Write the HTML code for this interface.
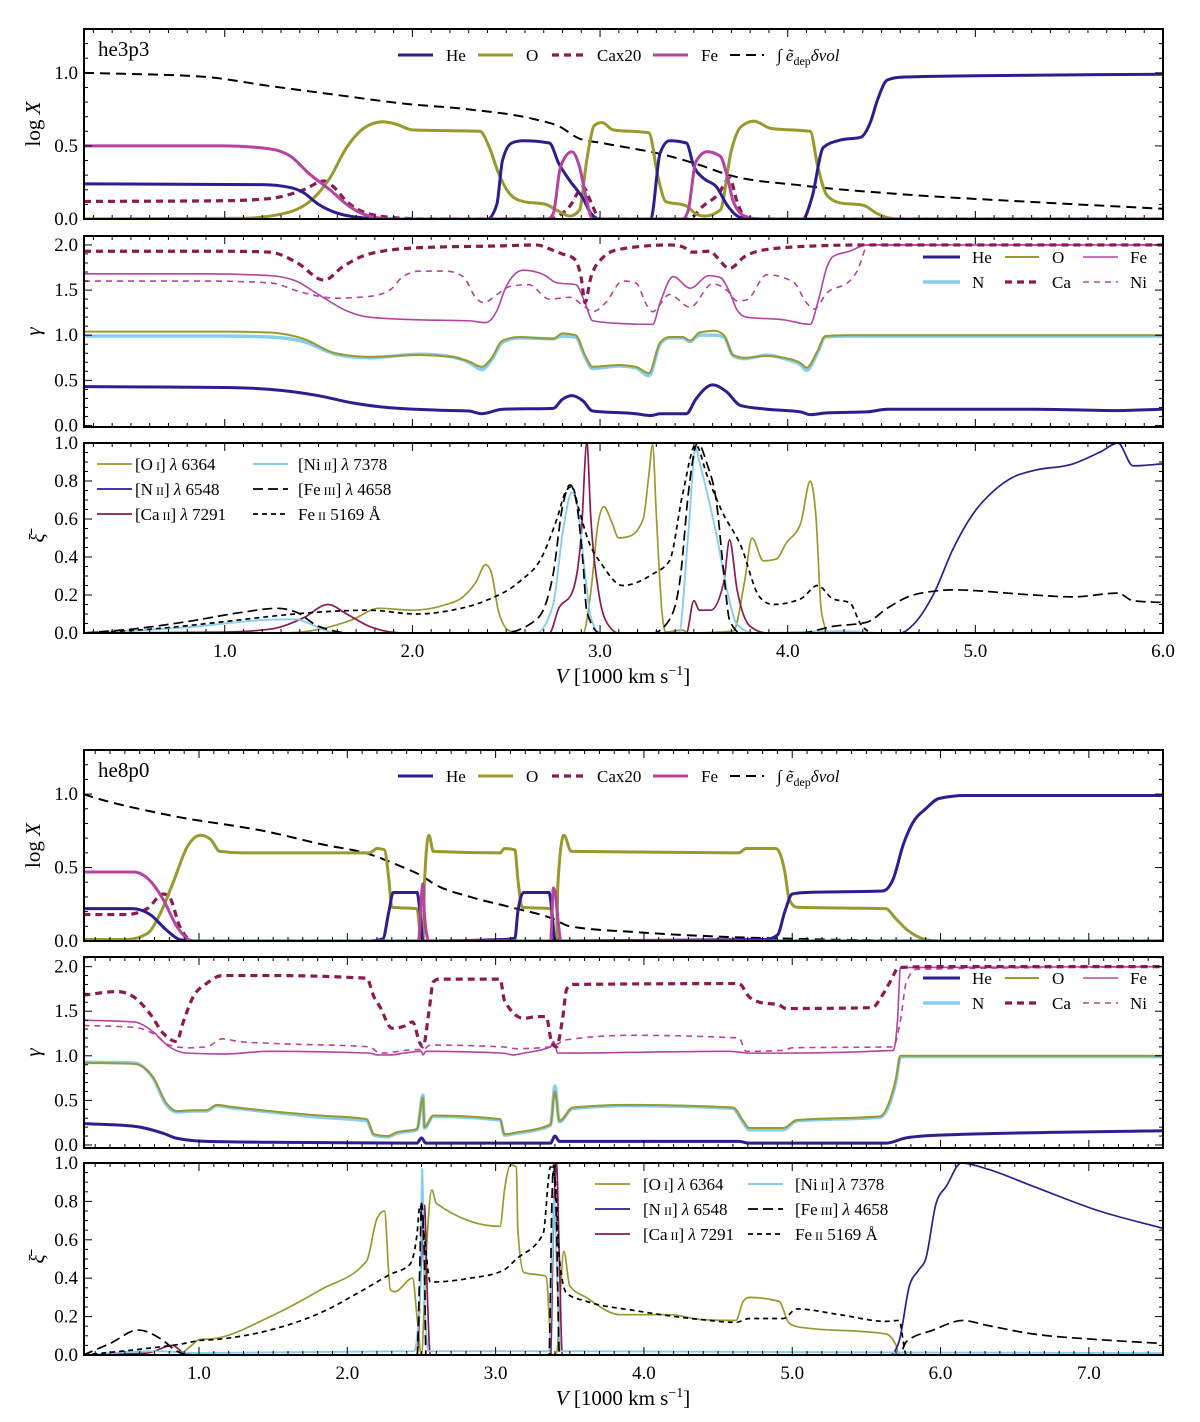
<!DOCTYPE html>
<html><head><meta charset="utf-8"><style>
html,body{margin:0;padding:0;background:#fff;}
svg{display:block;font-family:"Liberation Serif",serif;}
</style></head><body>
<svg id="fig" width="1200" height="1422" viewBox="0 0 1200 1422" xmlns="http://www.w3.org/2000/svg"></svg>
<script>
// ===== he3p3 (top figure) data =====
const A_lx_He=[[0.25,0.24],[1.2,0.235],[1.35,0.215],[1.42,0.18],[1.5,0.1],[1.6,0.04],[1.77,0.005],[1.9,0],[2.4,0],[2.45,0.1],[2.48,0.4],[2.53,0.52],[2.59,0.535],[2.73,0.52],[2.78,0.38],[2.84,0.26],[2.91,0.14],[2.95,0.04],[3.0,0],[3.27,0],[3.32,0.45],[3.37,0.535],[3.46,0.52],[3.5,0.36],[3.55,0.28],[3.62,0.22],[3.68,0.09],[3.75,0.01],[3.85,0],[4.08,0],[4.13,0.15],[4.19,0.49],[4.28,0.54],[4.39,0.56],[4.44,0.66],[4.48,0.82],[4.53,0.95],[4.6,0.97],[5.0,0.98],[6.0,0.99]];
const A_lx_O=[[0.25,0],[1.1,0.005],[1.24,0.02],[1.42,0.09],[1.56,0.28],[1.65,0.49],[1.74,0.62],[1.84,0.665],[1.91,0.65],[2.0,0.61],[2.36,0.6],[2.41,0.49],[2.46,0.31],[2.52,0.17],[2.59,0.12],[2.71,0.1],[2.77,0.06],[2.84,0.02],[2.89,0.06],[2.93,0.41],[2.97,0.64],[3.01,0.66],[3.07,0.61],[3.26,0.59],[3.31,0.28],[3.35,0.12],[3.46,0.09],[3.51,0.035],[3.56,0.02],[3.64,0.06],[3.7,0.47],[3.75,0.63],[3.82,0.67],[3.91,0.62],[4.12,0.6],[4.16,0.36],[4.21,0.16],[4.28,0.11],[4.4,0.095],[4.48,0.035],[4.53,0.01],[4.6,0],[6.0,0]];
const A_lx_Fe=[[0.25,0.5],[1.0,0.5],[1.24,0.48],[1.35,0.43],[1.45,0.31],[1.56,0.2],[1.66,0.09],[1.77,0.02],[1.9,0],[2.72,0],[2.75,0.035],[2.79,0.36],[2.85,0.46],[2.89,0.36],[2.93,0.12],[2.96,0],[3.44,0],[3.47,0.06],[3.51,0.39],[3.57,0.46],[3.64,0.43],[3.68,0.28],[3.71,0.12],[3.77,0.02],[3.85,0],[6.0,0]];
const A_lx_Ca=[[0.25,0.12],[1.0,0.125],[1.24,0.14],[1.42,0.2],[1.53,0.26],[1.58,0.22],[1.65,0.12],[1.77,0.035],[1.95,0.005],[2.1,0],[2.73,0],[2.84,0.09],[2.91,0.22],[2.95,0.12],[3.0,0],[3.47,0],[3.55,0.09],[3.63,0.17],[3.69,0.28],[3.73,0.12],[3.78,0],[6.0,0]];
const A_lx_E=[[0.25,1.0],[0.87,0.975],[1.24,0.91],[1.59,0.85],[1.95,0.79],[2.3,0.75],[2.66,0.68],[2.78,0.635],[2.89,0.55],[3.01,0.52],[3.37,0.43],[3.53,0.37],[3.69,0.3],[4.07,0.23],[4.6,0.17],[5.31,0.116],[6.0,0.07]];
const A_g_Ca=[[0.25,1.93],[1.0,1.93],[1.24,1.92],[1.38,1.81],[1.53,1.61],[1.63,1.76],[1.77,1.9],[2.04,1.97],[2.48,1.99],[2.66,2.0],[2.75,1.94],[2.8,1.9],[2.86,1.85],[2.9,1.63],[2.92,1.36],[2.95,1.63],[3.01,1.85],[3.1,1.95],[3.37,2.0],[3.44,1.98],[3.49,1.92],[3.59,1.93],[3.62,1.87],[3.69,1.74],[3.77,1.87],[3.89,1.95],[4.16,1.99],[4.4,2.0],[6.0,2.0]];
const A_g_Fe=[[0.25,1.68],[0.9,1.68],[1.24,1.66],[1.38,1.6],[1.5,1.45],[1.65,1.27],[1.77,1.2],[2.04,1.17],[2.3,1.16],[2.39,1.14],[2.45,1.27],[2.5,1.54],[2.59,1.72],[2.7,1.67],[2.77,1.58],[2.87,1.56],[2.92,1.36],[2.96,1.16],[3.1,1.13],[3.28,1.12],[3.32,1.36],[3.39,1.65],[3.48,1.52],[3.58,1.66],[3.64,1.64],[3.69,1.48],[3.73,1.28],[3.78,1.2],[3.98,1.17],[4.12,1.12],[4.16,1.36],[4.21,1.76],[4.24,1.87],[4.33,1.93],[4.42,2.0],[6.0,2.0]];
const A_g_Ni=[[0.25,1.6],[0.9,1.6],[1.24,1.58],[1.42,1.47],[1.59,1.41],[1.77,1.43],[1.88,1.5],[1.95,1.65],[2.04,1.71],[2.18,1.71],[2.27,1.65],[2.34,1.41],[2.38,1.36],[2.45,1.45],[2.52,1.54],[2.62,1.56],[2.73,1.4],[2.84,1.42],[2.92,1.31],[2.96,1.26],[3.03,1.36],[3.12,1.6],[3.19,1.58],[3.25,1.33],[3.28,1.26],[3.37,1.45],[3.48,1.31],[3.6,1.57],[3.68,1.49],[3.73,1.38],[3.78,1.39],[3.89,1.67],[4.03,1.59],[4.1,1.36],[4.14,1.29],[4.21,1.47],[4.33,1.6],[4.37,1.71],[4.43,2.0],[6.0,2.0]];
const A_g_O=[[0.25,1.04],[1.0,1.04],[1.24,1.03],[1.42,0.96],[1.59,0.8],[1.77,0.76],[2.04,0.78],[2.21,0.76],[2.3,0.71],[2.37,0.65],[2.42,0.74],[2.48,0.94],[2.57,0.98],[2.75,0.96],[2.8,1.02],[2.87,1.0],[2.92,0.78],[2.96,0.65],[3.1,0.67],[3.19,0.65],[3.26,0.58],[3.32,0.92],[3.37,0.98],[3.44,0.98],[3.48,0.94],[3.53,1.03],[3.61,1.05],[3.66,1.0],[3.71,0.78],[3.77,0.75],[3.89,0.77],[3.98,0.75],[4.07,0.69],[4.1,0.64],[4.16,0.83],[4.2,0.99],[4.3,1.0],[6.0,1.0]];
const A_g_N=[[0.25,0.99],[1.0,0.99],[1.24,0.98],[1.42,0.93],[1.59,0.79],[1.77,0.75],[2.04,0.79],[2.21,0.76],[2.3,0.7],[2.37,0.62],[2.42,0.72],[2.48,0.92],[2.57,0.97],[2.75,0.96],[2.8,0.99],[2.87,0.98],[2.92,0.76],[2.96,0.63],[3.1,0.66],[3.19,0.64],[3.26,0.55],[3.32,0.9],[3.37,0.97],[3.44,0.97],[3.48,0.93],[3.53,1.0],[3.61,1.0],[3.66,0.98],[3.71,0.77],[3.77,0.74],[3.89,0.78],[3.98,0.74],[4.07,0.67],[4.1,0.61],[4.16,0.81],[4.2,0.98],[4.3,0.99],[6.0,0.99]];
const A_g_He=[[0.25,0.43],[1.0,0.42],[1.24,0.4],[1.5,0.33],[1.68,0.25],[1.86,0.2],[2.13,0.17],[2.3,0.16],[2.37,0.13],[2.48,0.18],[2.75,0.19],[2.8,0.29],[2.85,0.33],[2.91,0.27],[2.96,0.16],[3.19,0.13],[3.27,0.11],[3.32,0.13],[3.46,0.13],[3.51,0.29],[3.6,0.45],[3.67,0.38],[3.75,0.22],[3.89,0.18],[4.07,0.15],[4.12,0.12],[4.21,0.14],[4.42,0.15],[4.53,0.18],[5.31,0.18],[5.75,0.165],[6.0,0.18]];
const A_x_O=[[0.25,0],[1.3,0],[1.45,0.01],[1.55,0.03],[1.68,0.07],[1.82,0.13],[2.0,0.12],[2.18,0.15],[2.27,0.19],[2.34,0.27],[2.39,0.36],[2.42,0.32],[2.46,0.11],[2.52,0.01],[2.6,0],[2.91,0],[2.95,0.21],[2.99,0.58],[3.02,0.665],[3.06,0.59],[3.1,0.5],[3.16,0.51],[3.23,0.6],[3.26,0.83],[3.28,0.99],[3.3,0.62],[3.33,0.11],[3.35,0.005],[3.44,0.015],[3.47,0],[3.71,0.01],[3.77,0.27],[3.81,0.5],[3.87,0.38],[3.94,0.39],[3.99,0.47],[4.07,0.58],[4.12,0.8],[4.15,0.62],[4.18,0.11],[4.22,0],[6.0,0]];
const A_x_N=[[0.25,0],[4.6,0],[4.67,0.045],[4.78,0.21],[4.88,0.44],[4.99,0.63],[5.1,0.75],[5.2,0.82],[5.31,0.855],[5.52,0.89],[5.67,0.955],[5.76,1.0],[5.84,0.88],[6.0,0.89]];
const A_x_Ca=[[0.25,0],[1.0,0.005],[1.24,0.02],[1.42,0.08],[1.55,0.15],[1.65,0.1],[1.77,0.035],[1.95,0],[2.73,0],[2.78,0.13],[2.85,0.21],[2.9,0.52],[2.93,1.0],[2.95,0.62],[2.99,0.23],[3.03,0.066],[3.1,0],[3.46,0],[3.5,0.17],[3.53,0.12],[3.59,0.12],[3.66,0.27],[3.69,0.49],[3.73,0.23],[3.8,0.035],[3.89,0],[6.0,0]];
const A_x_Ni=[[0.25,0],[0.8,0.03],[1.24,0.07],[1.38,0.072],[1.45,0.05],[1.52,0.02],[1.6,0],[2.66,0],[2.75,0.15],[2.8,0.52],[2.85,0.74],[2.88,0.665],[2.92,0.31],[2.95,0.087],[3.0,0],[3.42,0],[3.47,0.52],[3.51,0.975],[3.53,0.9],[3.57,0.74],[3.62,0.52],[3.68,0.21],[3.73,0.045],[3.82,0],[4.3,0.01],[4.5,0],[6.0,0]];
const A_x_F3=[[0.25,0],[0.5,0.02],[0.8,0.06],[1.1,0.11],[1.28,0.13],[1.38,0.11],[1.5,0.035],[1.68,0],[2.48,0],[2.66,0.07],[2.75,0.31],[2.8,0.665],[2.84,0.78],[2.87,0.71],[2.91,0.36],[2.93,0.11],[3.0,0],[3.28,0],[3.37,0.07],[3.43,0.31],[3.47,0.73],[3.52,1.0],[3.57,0.89],[3.62,0.69],[3.66,0.31],[3.69,0.07],[3.75,0],[4.07,0],[4.24,0.035],[4.42,0.056],[4.53,0.13],[4.64,0.19],[4.78,0.22],[4.88,0.227],[5.31,0.2],[5.52,0.19],[5.76,0.21],[5.84,0.17],[6.0,0.16]];
const A_x_F2=[[0.25,0],[0.6,0.02],[1.0,0.06],[1.24,0.087],[1.5,0.11],[1.77,0.12],[2.02,0.1],[2.21,0.12],[2.39,0.17],[2.57,0.27],[2.69,0.4],[2.77,0.6],[2.82,0.75],[2.85,0.77],[2.89,0.64],[2.94,0.48],[3.01,0.36],[3.12,0.25],[3.28,0.31],[3.37,0.38],[3.44,0.73],[3.51,0.99],[3.57,0.83],[3.65,0.64],[3.75,0.46],[3.85,0.19],[3.92,0.15],[4.07,0.18],[4.16,0.25],[4.24,0.18],[4.33,0.16],[4.39,0.045],[4.46,0],[6.0,0]];
// ===== he8p0 (bottom figure) data =====
const B_lx_He=[[0.22,0.22],[0.55,0.22],[0.67,0.18],[0.78,0.075],[0.87,0.01],[0.95,0],[2.15,0],[2.24,0.015],[2.28,0.2],[2.31,0.33],[2.47,0.33],[2.49,0.2],[2.51,0],[3.05,0.01],[3.13,0.02],[3.15,0.2],[3.19,0.33],[3.36,0.33],[3.38,0.2],[3.4,0],[4.82,0.01],[4.9,0.04],[4.95,0.2],[5.0,0.32],[5.09,0.33],[5.61,0.34],[5.68,0.42],[5.75,0.66],[5.81,0.8],[5.9,0.9],[5.99,0.97],[6.17,0.99],[7.5,0.99]];
const B_lx_O=[[0.22,0.01],[0.51,0.01],[0.65,0.05],[0.74,0.19],[0.83,0.41],[0.92,0.64],[1.01,0.72],[1.08,0.69],[1.14,0.61],[1.3,0.6],[2.15,0.6],[2.2,0.63],[2.25,0.62],[2.28,0.42],[2.3,0.23],[2.47,0.22],[2.49,0.07],[2.51,0],[2.52,0.39],[2.55,0.72],[2.58,0.61],[3.03,0.6],[3.06,0.63],[3.13,0.62],[3.15,0.42],[3.18,0.23],[3.37,0.22],[3.39,0.07],[3.41,0.01],[3.42,0.39],[3.46,0.72],[3.51,0.61],[4.64,0.6],[4.69,0.63],[4.89,0.63],[4.95,0.47],[4.98,0.28],[5.03,0.23],[5.63,0.22],[5.7,0.15],[5.77,0.08],[5.9,0.01],[5.99,0],[7.5,0]];
const B_lx_Fe=[[0.22,0.47],[0.56,0.47],[0.67,0.41],[0.76,0.28],[0.85,0.1],[0.96,0],[2.48,0],[2.5,0.31],[2.51,0.39],[2.52,0.18],[2.55,0],[3.37,0],[3.39,0.36],[3.4,0.34],[3.42,0.15],[3.44,0],[7.5,0]];
const B_lx_Ca=[[0.22,0.18],[0.51,0.18],[0.65,0.22],[0.76,0.32],[0.8,0.3],[0.87,0.1],[0.96,0],[2.48,0],[2.51,0.03],[2.54,0],[3.37,0],[3.4,0.03],[3.43,0],[7.5,0]];
const B_lx_E=[[0.22,1.0],[0.25,0.99],[0.78,0.86],[1.48,0.74],[1.82,0.66],[2.15,0.59],[2.38,0.5],[2.49,0.45],[2.6,0.38],[2.83,0.3],[3.1,0.23],[3.39,0.15],[3.5,0.1],[3.95,0.06],[4.58,0.027],[5.05,0.014],[5.95,0.002],[7.5,0]];
const B_g_Ca=[[0.22,1.68],[0.45,1.72],[0.56,1.66],[0.67,1.47],[0.76,1.25],[0.85,1.16],[0.89,1.36],[0.96,1.66],[1.05,1.81],[1.16,1.9],[1.48,1.9],[2.13,1.87],[2.18,1.66],[2.22,1.55],[2.3,1.31],[2.38,1.33],[2.44,1.38],[2.49,1.14],[2.51,1.1],[2.55,1.49],[2.58,1.83],[2.62,1.86],[3.03,1.86],[3.06,1.62],[3.19,1.42],[3.28,1.44],[3.34,1.44],[3.38,1.14],[3.41,1.1],[3.45,1.4],[3.48,1.75],[3.52,1.8],[4.64,1.81],[4.71,1.66],[4.78,1.6],[4.91,1.57],[4.96,1.53],[5.54,1.54],[5.6,1.66],[5.66,1.83],[5.72,1.99],[5.95,2.0],[7.5,2.0]];
const B_g_Fe=[[0.22,1.4],[0.56,1.38],[0.69,1.27],[0.8,1.1],[0.92,1.03],[1.16,1.02],[1.48,1.05],[2.15,1.03],[2.2,1.01],[2.29,1.01],[2.38,1.03],[2.5,1.05],[2.51,1.01],[2.53,1.05],[3.05,1.03],[3.12,1.01],[3.19,1.03],[3.37,1.1],[3.39,1.16],[3.42,1.03],[4.58,1.05],[4.71,1.03],[4.94,1.03],[5.68,1.06],[5.71,1.4],[5.73,1.99],[7.5,2.0]];
const B_g_Ni=[[0.22,1.34],[0.56,1.32],[0.69,1.25],[0.8,1.12],[0.92,1.09],[1.05,1.1],[1.16,1.19],[1.27,1.16],[1.48,1.14],[2.15,1.1],[2.22,1.03],[2.47,1.07],[2.51,1.07],[2.56,1.12],[3.05,1.1],[3.14,1.08],[3.37,1.1],[3.48,1.18],[3.91,1.23],[4.64,1.2],[4.69,1.05],[4.94,1.06],[5.0,1.09],[5.68,1.1],[5.73,1.4],[5.77,1.83],[5.84,1.97],[7.5,2.0]];
const B_g_O=[[0.22,0.92],[0.56,0.91],[0.69,0.76],[0.78,0.47],[0.85,0.38],[0.96,0.39],[1.05,0.39],[1.12,0.45],[1.21,0.43],[1.48,0.38],[1.82,0.33],[2.13,0.29],[2.18,0.12],[2.27,0.1],[2.33,0.14],[2.47,0.18],[2.51,0.53],[2.52,0.2],[2.58,0.33],[3.03,0.29],[3.06,0.12],[3.14,0.14],[3.37,0.23],[3.4,0.6],[3.43,0.27],[3.52,0.42],[3.91,0.45],[4.6,0.42],[4.67,0.27],[4.71,0.19],[4.94,0.19],[5.03,0.28],[5.59,0.32],[5.66,0.51],[5.7,0.75],[5.73,1.0],[7.5,1.0]];
const B_g_N=[[0.22,0.93],[0.56,0.92],[0.69,0.75],[0.78,0.45],[0.85,0.37],[0.96,0.38],[1.05,0.38],[1.12,0.44],[1.21,0.42],[1.48,0.37],[1.82,0.31],[2.13,0.27],[2.18,0.11],[2.27,0.09],[2.33,0.13],[2.47,0.17],[2.51,0.56],[2.52,0.19],[2.58,0.32],[3.03,0.28],[3.06,0.11],[3.14,0.13],[3.37,0.22],[3.4,0.66],[3.43,0.26],[3.52,0.41],[3.91,0.44],[4.6,0.41],[4.67,0.25],[4.71,0.17],[4.94,0.17],[5.03,0.27],[5.59,0.31],[5.66,0.48],[5.7,0.72],[5.73,0.99],[7.5,0.99]];
const B_g_He=[[0.22,0.24],[0.56,0.21],[0.76,0.13],[0.85,0.075],[1.05,0.04],[1.48,0.03],[2.47,0.02],[2.5,0.08],[2.53,0.02],[3.37,0.02],[3.4,0.1],[3.43,0.04],[4.64,0.04],[4.71,0.02],[5.63,0.02],[5.77,0.08],[5.99,0.11],[7.5,0.16]];
const B_x_O=[[0.22,0],[0.85,0],[0.95,0.05],[1.0,0.08],[1.1,0.085],[1.48,0.2],[1.82,0.34],[2.13,0.49],[2.2,0.71],[2.25,0.75],[2.29,0.34],[2.32,0.33],[2.44,0.4],[2.47,0.2],[2.5,0],[2.53,0.5],[2.57,0.86],[2.6,0.79],[3.03,0.67],[3.06,0.86],[3.1,0.99],[3.14,0.98],[3.15,0.65],[3.19,0.43],[3.34,0.41],[3.38,0],[3.41,0.01],[3.46,0.54],[3.5,0.36],[3.61,0.3],[3.84,0.21],[4.18,0.21],[4.38,0.185],[4.62,0.18],[4.67,0.28],[4.71,0.3],[4.91,0.28],[4.98,0.165],[5.05,0.145],[5.63,0.11],[5.7,0.05],[5.72,0],[7.5,0]];
const B_x_N=[[0.22,0],[5.66,0],[5.72,0.07],[5.79,0.36],[5.85,0.44],[5.9,0.5],[5.97,0.79],[6.04,0.88],[6.14,1.0],[6.31,0.97],[6.62,0.88],[7.07,0.75],[7.5,0.66]];
const B_x_Ca=[[0.22,0],[0.65,0.01],[0.82,0.05],[0.9,0.01],[1.0,0],[2.47,0],[2.5,0.5],[2.52,0.78],[2.54,0.3],[2.56,0],[3.37,0],[3.39,0.7],[3.41,1.0],[3.43,0.5],[3.45,0],[7.5,0]];
const B_x_Ni=[[0.22,0],[0.7,0.02],[1.0,0.01],[2.45,0.02],[2.49,0.3],[2.505,0.97],[2.52,0.3],[2.55,0.02],[3.36,0.02],[3.38,0.5],[3.395,0.81],[3.41,0.5],[3.44,0.02],[7.5,0.01]];
const B_x_F3=[[0.22,0],[0.4,0.06],[0.59,0.13],[0.75,0.08],[0.85,0.02],[0.95,0],[2.47,0],[2.49,0.5],[2.5,0.79],[2.52,0.5],[2.53,0],[3.36,0],[3.38,0.81],[3.39,0.99],[3.41,0.71],[3.43,0],[5.72,0],[5.77,0.07],[5.95,0.13],[6.15,0.18],[6.31,0.155],[6.62,0.11],[7.07,0.08],[7.5,0.06]];
const B_x_F2=[[0.22,0],[0.6,0.03],[0.9,0.06],[1.0,0.075],[1.1,0.08],[1.48,0.13],[1.82,0.22],[2.11,0.34],[2.29,0.42],[2.42,0.47],[2.47,0.63],[2.49,0.78],[2.52,0.61],[2.56,0.38],[2.83,0.4],[3.05,0.44],[3.14,0.5],[3.32,0.63],[3.37,0.98],[3.4,0.92],[3.43,0.5],[3.48,0.32],[3.61,0.28],[3.95,0.23],[4.38,0.185],[4.62,0.17],[4.71,0.19],[4.94,0.19],[5.03,0.24],[5.32,0.21],[5.63,0.175],[5.72,0.18],[5.77,0],[7.5,0]];
// tick label arrays
const xTicksA=[1,2,3,4,5,6];
const xTicksB=[1,2,3,4,5,6,7];
const yTicksLX=[0,0.5,1.0];
const yTicksG=[0,0.5,1.0,1.5,2.0];
const yTicksXi=[0,0.2,0.4,0.6,0.8,1.0];

const C={He:'#2b1f8f',O:'#999a2e',Ca:'#8b1a4f',Fe:'#b5439f',N:'#86cdf0',K:'#000'};
const NS='http://www.w3.org/2000/svg';
const svg=document.getElementById('fig');
function el(tag,attrs,parent){const e=document.createElementNS(NS,tag);for(const k in attrs)e.setAttribute(k,attrs[k]);(parent||svg).appendChild(e);return e;}
let clipId=0;

function monoPath(pts){
  const n=pts.length;if(n<2)return '';
  const t=new Array(n);const m=[];
  for(let i=0;i<n-1;i++){const h=pts[i+1][0]-pts[i][0];m.push(h===0?0:(pts[i+1][1]-pts[i][1])/h);}
  t[0]=m[0];t[n-1]=m[n-2];
  for(let i=1;i<n-1;i++){
    const h0=pts[i][0]-pts[i-1][0],h1=pts[i+1][0]-pts[i][0];
    const s0=m[i-1],s1=m[i];
    if(s0*s1<=0){t[i]=0;continue;}
    const p=(s0*h1+s1*h0)/(h0+h1);
    t[i]=(Math.sign(s0)+Math.sign(s1))*Math.min(Math.abs(s0),Math.abs(s1),0.5*Math.abs(p));
  }
  let d='M'+pts[0][0].toFixed(2)+','+pts[0][1].toFixed(2);
  for(let i=0;i<n-1;i++){
    const h=(pts[i+1][0]-pts[i][0])/3;
    d+='C'+(pts[i][0]+h).toFixed(2)+','+(pts[i][1]+t[i]*h).toFixed(2)+' '+(pts[i+1][0]-h).toFixed(2)+','+(pts[i+1][1]-t[i+1]*h).toFixed(2)+' '+pts[i+1][0].toFixed(2)+','+pts[i+1][1].toFixed(2);
  }
  return d;
}

function panel(o){
  const g=el('g',{});
  
  
  const X=v=>o.x0+(v-o.vmin)/(o.vmax-o.vmin)*(o.x1-o.x0);
  const Y=v=>o.y1-(v-o.ymin)/(o.ymax-o.ymin)*(o.y1-o.y0);
  const id='clip'+(clipId++);
  const cp=el('clipPath',{id:id},g);
  el('rect',{x:o.x0,y:o.y0,width:o.x1-o.x0,height:o.y1-o.y0},cp);
  const plot=el('g',{'clip-path':'url(#'+id+')'},g);
  o.series.forEach(s=>{
    const pts=s.data.map(p=>[X(p[0]),Y(p[1])]);
    const p=el('path',{d:monoPath(pts),fill:'none',stroke:s.color,'stroke-width':s.w,'stroke-dasharray':s.dash||'none','stroke-linejoin':'round'},plot);
    
    
  });
  const tk=el('g',{stroke:'#000','stroke-width':1},g);
  for(let v=Math.ceil(o.vmin*10);v<=Math.floor(o.vmax*10+1e-6);v++){
    const val=v/10;const maj=Math.abs(val-Math.round(val))<1e-6;const L=maj?8:4;const x=X(val);
    el('line',{x1:x,x2:x,y1:o.y1,y2:o.y1-L},tk);el('line',{x1:x,x2:x,y1:o.y0,y2:o.y0+L},tk);
  }
  for(let k=Math.ceil(o.ymin/o.minor-1e-6);k*o.minor<=o.ymax+1e-6;k++){
    const val=k*o.minor;const maj=o.yt.some(t=>Math.abs(t-val)<1e-6);const L=maj?8:4;const y=Y(val);
    el('line',{x1:o.x0,x2:o.x0+L,y1:y,y2:y},tk);el('line',{x1:o.x1,x2:o.x1-L,y1:y,y2:y},tk);
  }
  el('rect',{x:o.x0,y:o.y0,width:o.x1-o.x0,height:o.y1-o.y0,fill:'none',stroke:'#000','stroke-width':2},g);
  o.yt.forEach(v=>{
    const t=el('text',{x:o.x0-6,y:Y(v)+6,'text-anchor':'end','font-size':19},g);
    t.textContent=v.toFixed(1);
    
    
  });
  if(o.xt){o.xt.forEach(v=>{
    const t=el('text',{x:X(v),y:o.y1+24,'text-anchor':'middle','font-size':19},g);
    t.textContent=v.toFixed(1);
    
    
  });}
  const yl=el('text',{x:o.ylx,y:(o.y0+o.y1)/2,'text-anchor':'middle','font-size':o.ylSize||21,transform:'rotate(-90 '+o.ylx+' '+((o.y0+o.y1)/2)+')','font-style':o.ylItalic?'italic':'normal'},g);
  yl.innerHTML=o.ylabel;
  
  
  return {g,X,Y};
}

function legLine(g,x,y,len,color,w,dash,label,lx){
  const l=el('line',{x1:x,x2:x+len,y1:y,y2:y,stroke:color,'stroke-width':w,'stroke-dasharray':dash||'none'},g);
  
  
  const t=el('text',{x:lx,y:y+6,'font-size':17},g);
  t.innerHTML=label;
  
  
  return t;
}

function figure(F){
  const base={x0:84,x1:1163,vmin:F.vmin,vmax:F.vmax};
  const p1=panel(Object.assign({},base,{name:F.tag+'-logx-panel',y0:F.p1[0],y1:F.p1[1],ymin:0,ymax:1.3,minor:0.1,yt:yTicksLX,ylabel:'log <tspan font-style="italic">X</tspan>',ylx:40,
    series:[
      {name:'edep-line',data:F.lx.E,color:'#000',w:2,dash:'10,6'},
      {name:'ca-x20-line',data:F.lx.Ca,color:C.Ca,w:3.2,dash:'7,5'},
      {name:'o-line',data:F.lx.O,color:C.O,w:3},
      {name:'he-line',data:F.lx.He,color:C.He,w:3},
      {name:'fe-line',data:F.lx.Fe,color:C.Fe,w:3}]}));
  const ttag=el('text',{x:98,y:F.p1[0]+27,'font-size':21},p1.g);ttag.textContent=F.tag;
  
  const ly=F.p1[0]+26, lg=el('g',{},p1.g);
  
  legLine(lg,398,ly,35,C.He,3,null,'He',446);
  legLine(lg,478,ly,35,C.O,3,null,'O',526);
  legLine(lg,552,ly,34,C.Ca,3.2,'7,5','Cax20',597);
  legLine(lg,653,ly,35,C.Fe,3,null,'Fe',701);
  legLine(lg,730,ly,34,'#000',2,'10,6','<tspan font-style="normal">∫</tspan> <tspan font-style="italic">ẽ</tspan><tspan font-size="12" dy="4">dep</tspan><tspan dy="-4" font-style="italic">δvol</tspan>',777);

  const p2=panel(Object.assign({},base,{name:F.tag+'-gamma-panel',y0:F.p2[0],y1:F.p2[1],ymin:F.g2[0],ymax:F.g2[1],minor:0.1,yt:yTicksG,ylabel:'γ',ylx:40,ylItalic:true,
    series:[
      {name:'n-line',data:F.g.N,color:C.N,w:3.4},
      {name:'o-line',data:F.g.O,color:C.O,w:2},
      {name:'he-line',data:F.g.He,color:C.He,w:3},
      {name:'fe-line',data:F.g.Fe,color:C.Fe,w:1.6},
      {name:'ni-line',data:F.g.Ni,color:C.Fe,w:1.6,dash:'6,5'},
      {name:'ca-line',data:F.g.Ca,color:C.Ca,w:3.2,dash:'7,5'}]}));
  const g2=el('g',{},p2.g);
  const r1=F.p2[0]+21,r2=F.p2[0]+46;
  legLine(g2,923,r1,37,C.He,3,null,'He',972);
  legLine(g2,1005,r1,34,C.O,2,null,'O',1052);
  legLine(g2,1083,r1,35,C.Fe,1.6,null,'Fe',1130);
  legLine(g2,923,r2,37,C.N,3.4,null,'N',972);
  legLine(g2,1005,r2,34,C.Ca,3.2,'7,5','Ca',1052);
  legLine(g2,1083,r2,35,C.Fe,1.6,'6,5','Ni',1130);

  const p3=panel(Object.assign({},base,{name:F.tag+'-xi-panel',y0:F.p3[0],y1:F.p3[1],ymin:0,ymax:1,minor:0.05,yt:yTicksXi,xt:F.xt,ylabel:'ξ̄',ylx:44,ylItalic:true,
    series:[
      {name:'oi-6364-line',data:F.x.O,color:C.O,w:1.7},
      {name:'nii-6548-line',data:F.x.N,color:C.He,w:1.7},
      {name:'caii-7291-line',data:F.x.Ca,color:C.Ca,w:1.7},
      {name:'nii-7378-line',data:F.x.Ni,color:C.N,w:1.9},
      {name:'feiii-4658-line',data:F.x.F3,color:'#000',w:1.7,dash:'10,5'},
      {name:'feii-5169-line',data:F.x.F2,color:'#000',w:1.7,dash:'5,4'}]}));
  const g3=el('g',{},p3.g);
  const L=F.leg, rr=[F.p3[0]+21,F.p3[0]+46,F.p3[0]+71];
  legLine(g3,L[0],rr[0],35,C.O,1.7,null,'[O<tspan font-size="12"> I</tspan>] <tspan font-style="italic">λ</tspan> 6364',L[1]);
  legLine(g3,L[0],rr[1],35,C.He,1.7,null,'[N<tspan font-size="12"> II</tspan>] <tspan font-style="italic">λ</tspan> 6548',L[1]);
  legLine(g3,L[0],rr[2],35,C.Ca,1.7,null,'[Ca<tspan font-size="12"> II</tspan>] <tspan font-style="italic">λ</tspan> 7291',L[1]);
  legLine(g3,L[2],rr[0],35,C.N,1.9,null,'[Ni<tspan font-size="12"> II</tspan>] <tspan font-style="italic">λ</tspan> 7378',L[3]);
  legLine(g3,L[2],rr[1],35,'#000',1.7,'10,5','[Fe<tspan font-size="12"> III</tspan>] <tspan font-style="italic">λ</tspan> 4658',L[3]);
  legLine(g3,L[2],rr[2],35,'#000',1.7,'5,4','Fe<tspan font-size="12"> II</tspan> 5169 Å',L[3]);
  const xl=el('text',{x:623,y:F.p3[1]+50,'text-anchor':'middle','font-size':21});
  xl.innerHTML='<tspan font-style="italic">V</tspan> [1000 km s<tspan font-size="14" dy="-8">−1</tspan><tspan dy="8">]</tspan>';
  
}

figure({tag:'he3p3',vmin:0.25,vmax:6.0,p1:[29,219],p2:[236,427],g2:[-0.017,2.099],p3:[443,633],xt:xTicksA,leg:[97,135,253,298],
  lx:{He:A_lx_He,O:A_lx_O,Fe:A_lx_Fe,Ca:A_lx_Ca,E:A_lx_E},
  g:{Ca:A_g_Ca,Fe:A_g_Fe,Ni:A_g_Ni,O:A_g_O,N:A_g_N,He:A_g_He},
  x:{O:A_x_O,N:A_x_N,Ca:A_x_Ca,Ni:A_x_Ni,F3:A_x_F3,F2:A_x_F2}});
figure({tag:'he8p0',vmin:0.2245,vmax:7.5,p1:[750,941],p2:[957,1148],g2:[-0.034,2.108],p3:[1163,1355],xt:xTicksB,leg:[595,643,748,795],
  lx:{He:B_lx_He,O:B_lx_O,Fe:B_lx_Fe,Ca:B_lx_Ca,E:B_lx_E},
  g:{Ca:B_g_Ca,Fe:B_g_Fe,Ni:B_g_Ni,O:B_g_O,N:B_g_N,He:B_g_He},
  x:{O:B_x_O,N:B_x_N,Ca:B_x_Ca,Ni:B_x_Ni,F3:B_x_F3,F2:B_x_F2}});
</script>
</body></html>
